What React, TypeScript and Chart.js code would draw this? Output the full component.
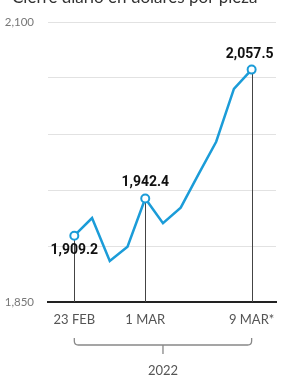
import React, { useEffect, useRef } from "react";
import { Chart, registerables } from "chart.js";

Chart.register(...registerables);

const TITLE = "Cierre diario en dólares por pieza";
const DATES = ["23 FEB", "24 FEB", "25 FEB", "28 FEB", "1 MAR", "2 MAR", "3 MAR", "4 MAR", "7 MAR", "8 MAR", "9 MAR*"];
const PRICES = [1909.2, 1925.0, 1886.6, 1899.4, 1942.4, 1920.3, 1934.2, 1964.0, 1993.1, 2040.2, 2057.5];
const MARKED = [0, 4, 10];
const Y_LABELS = [1850, 2100];
const YEAR = "2022";

const BLUE = "#1b9cd8";

export default function App() {
  const ref = useRef<HTMLCanvasElement | null>(null);

  useEffect(() => {
    const canvas = ref.current;
    if (!canvas) return;

    const fmt = (v: number) =>
      v.toLocaleString("en-US", { minimumFractionDigits: 1, maximumFractionDigits: 1 });

    const annot = {
      id: "annot",
      beforeDatasetsDraw(chart: any) {
        const { ctx, chartArea } = chart;
        const xs = chart.scales.x;
        const ys = chart.scales.y;
        ctx.save();
        ctx.strokeStyle = "#444";
        ctx.lineWidth = 1;
        MARKED.forEach((i) => {
          const px = Math.round(xs.getPixelForValue(i)) + 0.5;
          ctx.beginPath();
          ctx.moveTo(px, ys.getPixelForValue(PRICES[i]));
          ctx.lineTo(px, chartArea.bottom);
          ctx.stroke();
        });
        ctx.restore();
      },
      afterDatasetsDraw(chart: any) {
        const { ctx } = chart;
        const xs = chart.scales.x;
        const ys = chart.scales.y;
        ctx.save();
        ctx.fillStyle = "#111";
        ctx.font = "bold 14px Roboto, 'Liberation Sans', sans-serif";
        ctx.textAlign = "center";
        ctx.textBaseline = "middle";
        const offsets: { [k: number]: [number, number] } = { 0: [0, 15], 4: [0, -16], 10: [-2, -15] };
        MARKED.forEach((i) => {
          const px = xs.getPixelForValue(i);
          const py = ys.getPixelForValue(PRICES[i]);
          const [dx, dy] = offsets[i];
          ctx.fillText(fmt(PRICES[i]), px + dx, py + dy);
        });
        ctx.restore();
      },
      afterDraw(chart: any) {
        const { ctx, chartArea } = chart;
        const xs = chart.scales.x;
        const x0 = xs.getPixelForValue(0);
        const x1 = xs.getPixelForValue(DATES.length - 1);
        const mid = (x0 + x1) / 2;
        ctx.save();
        // title (cut off at the top)
        ctx.fillStyle = "#333";
        ctx.font = "17px Lato, 'Open Sans', sans-serif";
        ctx.textAlign = "left";
        ctx.textBaseline = "alphabetic";
        ctx.fillText(TITLE, 12, 3);
        // bracket
        const top = chartArea.bottom + 36;
        const bot = chartArea.bottom + 43;
        const r = 4;
        ctx.strokeStyle = "#888";
        ctx.lineWidth = 1.3;
        ctx.beginPath();
        ctx.moveTo(x0, top);
        ctx.lineTo(x0, bot - r);
        ctx.quadraticCurveTo(x0, bot, x0 + r, bot);
        ctx.lineTo(x1 - r, bot);
        ctx.quadraticCurveTo(x1, bot, x1, bot - r);
        ctx.lineTo(x1, top);
        ctx.moveTo(mid, bot);
        ctx.lineTo(mid, bot + 9);
        ctx.stroke();
        ctx.fillStyle = "#555";
        ctx.font = "13px Lato, 'Open Sans', sans-serif";
        ctx.textAlign = "center";
        ctx.textBaseline = "middle";
        ctx.fillText(YEAR, mid, chartArea.bottom + 69);
        ctx.restore();
      },
    };

    const chart = new Chart(canvas, {
      type: "line",
      data: {
        datasets: [
          {
            data: PRICES.map((v, i) => ({ x: i, y: v })),
            borderColor: BLUE,
            borderWidth: 2.5,
            tension: 0,
            pointRadius: PRICES.map((_, i) => (MARKED.includes(i) ? 4 : 0)),
            pointBackgroundColor: "#fff",
            pointBorderColor: BLUE,
            pointBorderWidth: 2,
          },
        ],
      },
      options: {
        animation: false,
        responsive: true,
        maintainAspectRatio: false,
        layout: { padding: { top: 22, left: 0, right: 0, bottom: 0 } },
        plugins: { legend: { display: false }, tooltip: { enabled: false }, title: { display: false } },
        scales: {
          x: {
            type: "linear",
            min: -1.484,
            max: 11.374,
            afterBuildTicks: (s: any) => {
              s.ticks = MARKED.map((i) => ({ value: i }));
            },
            afterFit: (s: any) => {
              s.height = 75;
              s.paddingLeft = 0;
              s.paddingRight = 0;
            },
            ticks: {
              callback: (v: any) => DATES[Number(v)] ?? "",
              color: "#555",
              font: { family: "Lato, 'Open Sans', sans-serif", size: 13 },
              padding: 10,
              maxRotation: 0,
              autoSkip: false,
            },
            grid: { display: false, drawTicks: false },
            border: { display: true, color: "#222", width: 2 },
          },
          y: {
            min: 1850,
            max: 2100,
            afterFit: (s: any) => {
              s.width = 48;
            },
            ticks: {
              stepSize: 50,
              callback: (v: any) => (Y_LABELS.includes(Number(v)) ? Number(v).toLocaleString("en-US") : ""),
              color: "#777",
              font: { family: "Lato, 'Open Sans', sans-serif", size: 11.5 },
              padding: 14,
            },
            grid: { color: "#e2e2e2", lineWidth: 1, drawTicks: false },
            border: { display: false },
          },
        },
      },
      plugins: [annot],
    });

    return () => chart.destroy();
  }, []);

  return (
    <div style={{ position: "absolute", left: 0, top: 0, width: 282, height: 377, background: "#fff" }}>
      <canvas ref={ref} />
    </div>
  );
}
